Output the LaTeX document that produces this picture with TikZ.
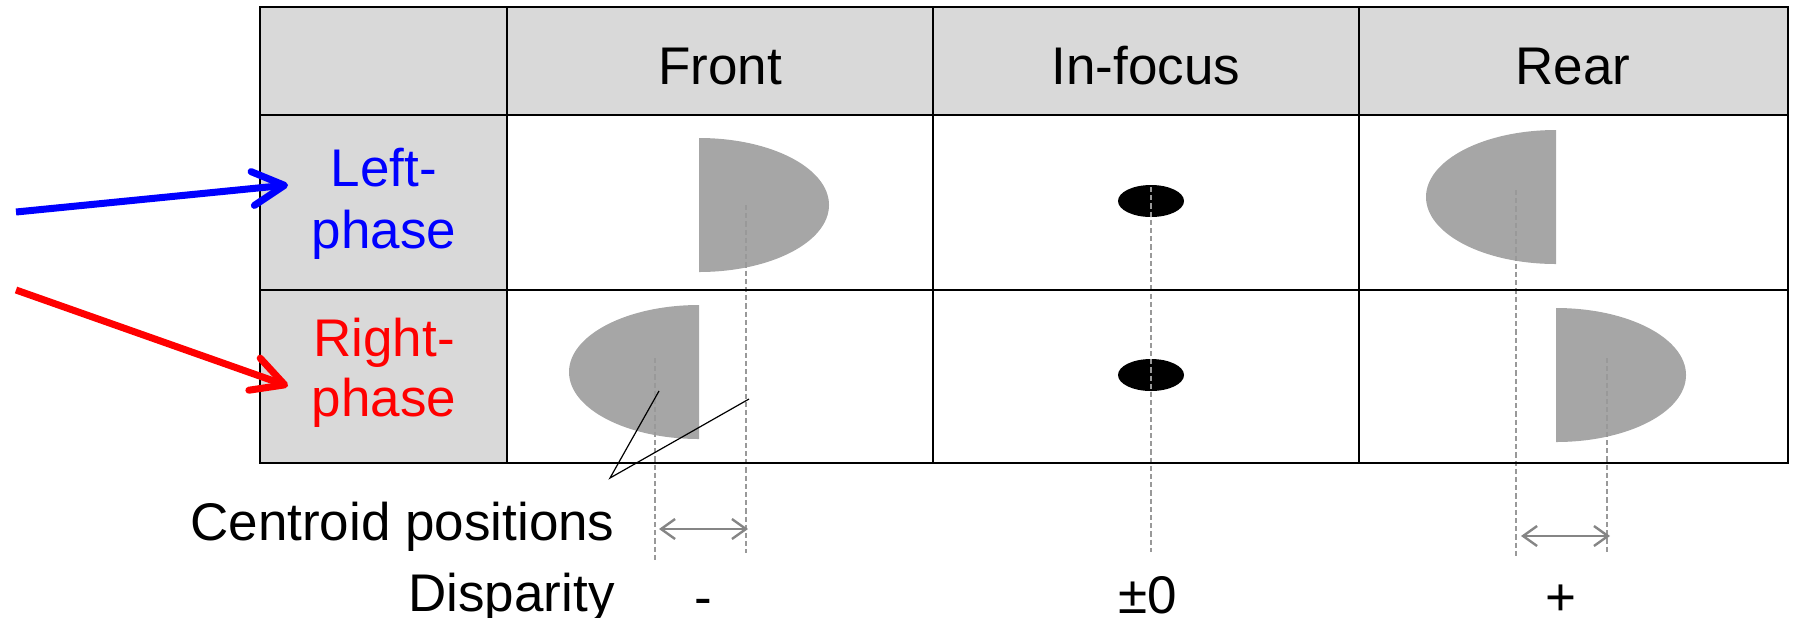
\documentclass[tikz,border=0pt]{standalone}
\usepackage{fontspec}
\setmainfont{Liberation Sans}
\usetikzlibrary{arrows.meta}
\definecolor{hdr}{HTML}{D9D9D9}
\definecolor{blob}{HTML}{A6A6A6}
\definecolor{dashc}{HTML}{999999}
\definecolor{arrc}{HTML}{858585}
\definecolor{pblue}{HTML}{0000FF}
\definecolor{pred}{HTML}{FF0000}
\begin{document}
\begin{tikzpicture}[x=0.5pt,y=-0.5pt,
  txt/.style={font=\fontsize{26.5}{30}\selectfont, inner sep=0pt},
  grid/.style={line width=1pt, black},
  cline/.style={dashc, line width=0.6pt, dash pattern=on 2.6pt off 1.5pt},
  darr/.style={arrc, line width=1.2pt, {Straight Barb[length=7pt,width=10pt]}-{Straight Barb[length=7pt,width=10pt]}},
  bigarr/.style={line width=3.5pt, -{Straight Barb[length=16pt,width=17pt,round]}},
  leader/.style={black, line width=0.6pt}]
\useasboundingbox (0,0) rectangle (1797,617);
% cell fills
\fill[hdr] (260,7) rectangle (1788,115);
\fill[hdr] (260,115) rectangle (507,463);
% Front column shapes
\begin{scope}
  \clip (699,120) rectangle (900,285);
  \fill[blob] (699,205) ellipse [x radius=130, y radius=67];
\end{scope}
\begin{scope}
  \clip (500,295) rectangle (699,455);
  \fill[blob] (699,372) ellipse [x radius=130, y radius=67];
\end{scope}
% In-focus spots
\fill[black] (1151,201) ellipse [x radius=33, y radius=16];
\fill[black] (1151,375) ellipse [x radius=33, y radius=16];
% Rear column shapes
\begin{scope}
  \clip (1400,120) rectangle (1556,285);
  \fill[blob] (1556,197) ellipse [x radius=130, y radius=67];
\end{scope}
\begin{scope}
  \clip (1556,295) rectangle (1750,455);
  \fill[blob] (1556,375) ellipse [x radius=130, y radius=67];
\end{scope}
% centroid dashed lines
\coordinate (fa) at (746,205); \coordinate (fb) at (746,553);
\coordinate (fc) at (655,358); \coordinate (fd) at (655,560);
\coordinate (ia) at (1151,187); \coordinate (ib) at (1151,552);
\coordinate (ra) at (1516,190); \coordinate (rb) at (1516,559);
\coordinate (rc) at (1607,358); \coordinate (rd) at (1607,552);
\draw[cline] (fa) -- (fb);
\draw[cline] (fc) -- (fd);
\draw[cline] (ia) -- (ib);
\draw[cline] (ra) -- (rb);
\draw[cline] (rc) -- (rd);
% grid
\draw[grid] (260,7) rectangle (1788,463);
\foreach \x in {507,933,1359} \draw[grid] (\x,7) -- (\x,463);
\foreach \y in {115,290} \draw[grid] (260,\y) -- (1788,\y);
% disparity arrows
\coordinate (fl) at (659,529); \coordinate (fr) at (748,529);
\coordinate (rl) at (1521,536); \coordinate (rr) at (1610,536);
\draw[darr] (fl) -- (fr);
\draw[darr] (rl) -- (rr);
% leader lines
\coordinate (lp) at (610,478);
\coordinate (l1) at (659,391);
\coordinate (l2) at (749,399);
\draw[leader] (l1) -- (lp) -- (l2);
% texts
\node[txt, anchor=base] (front) at (720,84) {Front};
\node[txt, anchor=base] (infocus) at (1146,84) {In-focus};
\node[txt, anchor=base] (rear) at (1573,84) {Rear};
\node[txt, anchor=base, text=pblue] (left1) at (384,186) {Left-};
\node[txt, anchor=base, text=pblue] (left2) at (384,248) {phase};
\node[txt, anchor=base, text=pred] (right1) at (384,356) {Right-};
\node[txt, anchor=base, text=pred] (right2) at (384,416) {phase};
\node[txt, anchor=base east] (cent) at (615,540) {Centroid positions};
\node[txt, anchor=base east] (disp) at (615,611) {Disparity};
\node[txt, anchor=base] (minus) at (703,615) {-};
\node[txt, anchor=base] (pm) at (1148,613) {±0};
\node[txt, anchor=base] (plus) at (1561,615) {+};
% phase arrows
\coordinate (bs) at (16,212); \coordinate (bt) at (288,185);
\coordinate (rs) at (16,290); \coordinate (rt) at (288,386);
\draw[bigarr, pblue] (bs) -- (bt);
\draw[bigarr, pred] (rs) -- (rt);
\end{tikzpicture}
\end{document}
